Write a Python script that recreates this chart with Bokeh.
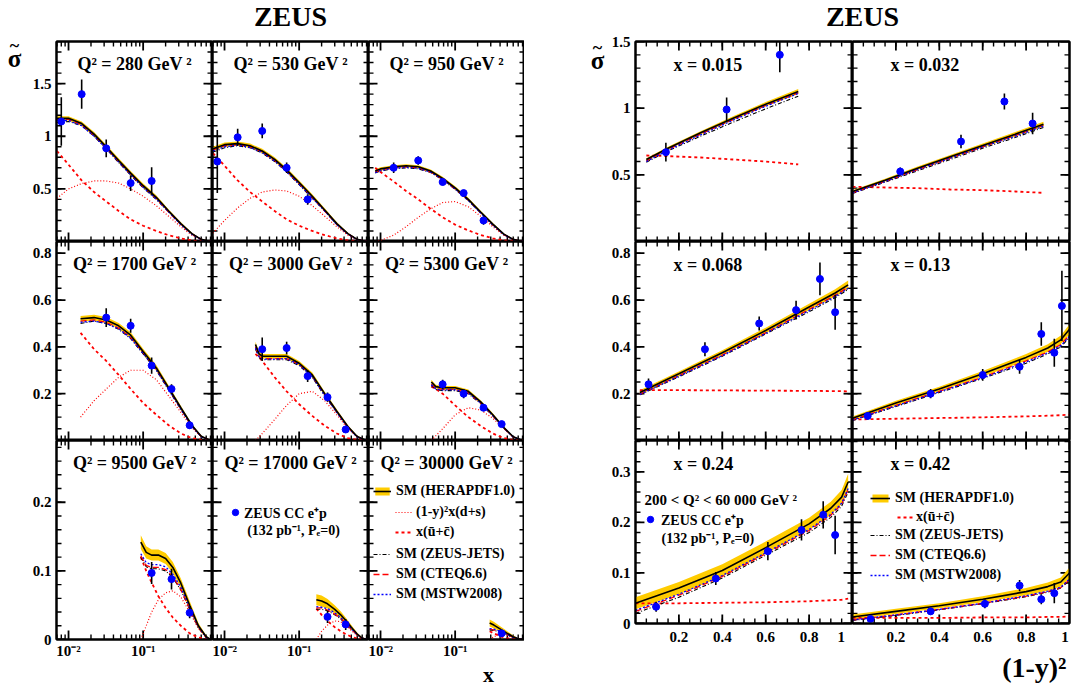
import numpy as np
from bokeh.plotting import figure
from bokeh.layouts import row, column
from bokeh.models import (FixedTicker, LinearAxis, LogAxis, Label, Legend,
                          LegendItem, Range1d, CustomJSTickFormatter)
from bokeh.embed import file_html
from bokeh.resources import INLINE

# ====================== LEFT BLOCK : sigma~ vs x at fixed Q^2 ======================
X_A = [0.007, 0.01, 0.015, 0.022, 0.032, 0.047, 0.068, 0.1, 0.15, 0.22, 0.32, 0.45, 0.6, 0.8]

Q280_X = X_A
Q280_SM = [1.17, 1.17, 1.12, 1.02, 0.90, 0.77, 0.65, 0.53, 0.42, 0.29, 0.17, 0.075, 0.02, 0.0]
Q280_BAND = [0.02, 0.02, 0.02, 0.02, 0.02, 0.02, 0.02, 0.02, 0.02, 0.015, 0.012, 0.008, 0.004, 0.0]
Q280_JETS = [1.13, 1.14, 1.10, 1.00, 0.88, 0.75, 0.63, 0.51, 0.40, 0.28, 0.16, 0.07, 0.018, 0.0]
Q280_CTEQ = [1.16, 1.16, 1.11, 1.01, 0.89, 0.76, 0.64, 0.52, 0.41, 0.28, 0.165, 0.072, 0.02, 0.0]
Q280_MSTW = [1.15, 1.15, 1.10, 1.00, 0.885, 0.755, 0.635, 0.515, 0.405, 0.28, 0.16, 0.07, 0.018, 0.0]
Q280_DS = [0.41, 0.50, 0.55, 0.575, 0.575, 0.555, 0.50, 0.43, 0.34, 0.24, 0.14, 0.06, 0.017, 0.0]
Q280_UC = [0.86, 0.73, 0.58, 0.47, 0.38, 0.29, 0.21, 0.15, 0.10, 0.06, 0.03, 0.01, 0.003, 0.0]
Q280_PX = [0.008, 0.015, 0.032, 0.068, 0.13]
Q280_PY = [1.14, 1.40, 0.885, 0.555, 0.575]
Q280_PE = [0.23, 0.14, 0.085, 0.075, 0.13]

Q530_X = X_A
Q530_SM = [0.88, 0.92, 0.93, 0.91, 0.86, 0.78, 0.68, 0.56, 0.43, 0.30, 0.17, 0.075, 0.02, 0.0]
Q530_BAND = [0.02, 0.02, 0.02, 0.02, 0.02, 0.02, 0.02, 0.02, 0.02, 0.015, 0.012, 0.008, 0.004, 0.0]
Q530_JETS = [0.85, 0.89, 0.91, 0.89, 0.84, 0.76, 0.66, 0.54, 0.41, 0.29, 0.16, 0.07, 0.018, 0.0]
Q530_CTEQ = [0.87, 0.91, 0.92, 0.90, 0.85, 0.77, 0.67, 0.55, 0.42, 0.29, 0.165, 0.072, 0.02, 0.0]
Q530_MSTW = [0.86, 0.90, 0.915, 0.895, 0.845, 0.765, 0.665, 0.545, 0.415, 0.29, 0.16, 0.07, 0.018, 0.0]
Q530_DS = [0.08, 0.20, 0.32, 0.41, 0.47, 0.49, 0.48, 0.43, 0.34, 0.24, 0.14, 0.06, 0.017, 0.0]
Q530_UC = [0.84, 0.72, 0.58, 0.47, 0.38, 0.29, 0.21, 0.15, 0.10, 0.06, 0.03, 0.01, 0.003, 0.0]
Q530_PX = [0.008, 0.015, 0.032, 0.068, 0.13]
Q530_PY = [0.76, 0.99, 1.05, 0.70, 0.40]
Q530_PE = [0.30, 0.08, 0.07, 0.05, 0.05]

Q950_X = [0.0085, 0.01, 0.015, 0.022, 0.032, 0.047, 0.068, 0.1, 0.15, 0.22, 0.32, 0.45, 0.6, 0.8]
Q950_SM = [0.67, 0.69, 0.71, 0.72, 0.71, 0.67, 0.60, 0.51, 0.40, 0.28, 0.165, 0.07, 0.02, 0.0]
Q950_BAND = [0.015, 0.015, 0.015, 0.015, 0.015, 0.015, 0.015, 0.015, 0.015, 0.012, 0.01, 0.007, 0.004, 0.0]
Q950_JETS = [0.65, 0.67, 0.69, 0.70, 0.69, 0.655, 0.585, 0.495, 0.39, 0.27, 0.155, 0.065, 0.018, 0.0]
Q950_CTEQ = [0.66, 0.68, 0.70, 0.71, 0.70, 0.66, 0.59, 0.50, 0.395, 0.275, 0.16, 0.068, 0.02, 0.0]
Q950_MSTW = [0.655, 0.675, 0.695, 0.705, 0.695, 0.66, 0.59, 0.50, 0.39, 0.27, 0.157, 0.066, 0.018, 0.0]
Q950_DS = [0.0, 0.01, 0.06, 0.14, 0.23, 0.31, 0.37, 0.38, 0.33, 0.24, 0.14, 0.06, 0.017, 0.0]
Q950_UC = [0.70, 0.66, 0.57, 0.48, 0.40, 0.31, 0.23, 0.16, 0.105, 0.062, 0.03, 0.01, 0.003, 0.0]
Q950_PX = [0.015, 0.032, 0.068, 0.13, 0.24]
Q950_PY = [0.70, 0.77, 0.565, 0.46, 0.20]
Q950_PE = [0.05, 0.04, 0.03, 0.03, 0.04]

Q1700_X = [0.0145, 0.022, 0.032, 0.047, 0.068, 0.1, 0.15, 0.22, 0.32, 0.45, 0.6, 0.8]
Q1700_SM = [0.52, 0.525, 0.515, 0.49, 0.45, 0.38, 0.31, 0.225, 0.14, 0.065, 0.018, 0.0]
Q1700_BAND = [0.012, 0.012, 0.012, 0.012, 0.012, 0.012, 0.012, 0.01, 0.008, 0.006, 0.003, 0.0]
Q1700_JETS = [0.50, 0.51, 0.50, 0.475, 0.435, 0.37, 0.30, 0.215, 0.133, 0.06, 0.016, 0.0]
Q1700_CTEQ = [0.51, 0.515, 0.505, 0.48, 0.44, 0.375, 0.305, 0.22, 0.136, 0.062, 0.017, 0.0]
Q1700_MSTW = [0.505, 0.51, 0.50, 0.478, 0.438, 0.372, 0.302, 0.218, 0.134, 0.061, 0.016, 0.0]
Q1700_DS = [0.10, 0.17, 0.22, 0.27, 0.30, 0.30, 0.26, 0.19, 0.12, 0.055, 0.016, 0.0]
Q1700_UC = [0.46, 0.39, 0.34, 0.28, 0.22, 0.16, 0.11, 0.065, 0.03, 0.01, 0.003, 0.0]
Q1700_PX = [0.032, 0.068, 0.13, 0.24, 0.42]
Q1700_PY = [0.525, 0.49, 0.32, 0.22, 0.065]
Q1700_PE = [0.04, 0.03, 0.035, 0.02, 0.015]

Q3000_X = [0.026, 0.029, 0.032, 0.047, 0.068, 0.1, 0.15, 0.22, 0.32, 0.45, 0.6, 0.8]
Q3000_SM = [0.41, 0.37, 0.36, 0.36, 0.36, 0.33, 0.28, 0.20, 0.125, 0.06, 0.017, 0.0]
Q3000_BAND = [0.012, 0.01, 0.01, 0.01, 0.01, 0.01, 0.01, 0.008, 0.007, 0.005, 0.003, 0.0]
Q3000_JETS = [0.39, 0.355, 0.345, 0.345, 0.345, 0.32, 0.27, 0.19, 0.12, 0.055, 0.015, 0.0]
Q3000_CTEQ = [0.40, 0.36, 0.35, 0.35, 0.35, 0.325, 0.275, 0.195, 0.122, 0.057, 0.016, 0.0]
Q3000_MSTW = [0.395, 0.358, 0.348, 0.348, 0.35, 0.324, 0.273, 0.193, 0.12, 0.056, 0.015, 0.0]
Q3000_DS = [0.0, 0.015, 0.03, 0.09, 0.15, 0.20, 0.21, 0.17, 0.11, 0.05, 0.015, 0.0]
Q3000_UC = [0.37, 0.355, 0.34, 0.27, 0.21, 0.155, 0.105, 0.063, 0.03, 0.01, 0.003, 0.0]
Q3000_PX = [0.032, 0.068, 0.13, 0.24, 0.42]
Q3000_PY = [0.39, 0.395, 0.275, 0.185, 0.047]
Q3000_PE = [0.05, 0.027, 0.025, 0.02, 0.01]

Q5300_X = [0.048, 0.055, 0.068, 0.1, 0.15, 0.22, 0.32, 0.45, 0.6, 0.8]
Q5300_SM = [0.25, 0.23, 0.225, 0.225, 0.21, 0.165, 0.11, 0.055, 0.016, 0.0]
Q5300_BAND = [0.01, 0.008, 0.008, 0.008, 0.008, 0.007, 0.006, 0.004, 0.002, 0.0]
Q5300_JETS = [0.235, 0.218, 0.213, 0.213, 0.20, 0.157, 0.105, 0.052, 0.015, 0.0]
Q5300_CTEQ = [0.24, 0.222, 0.218, 0.218, 0.204, 0.16, 0.107, 0.053, 0.015, 0.0]
Q5300_MSTW = [0.238, 0.22, 0.216, 0.217, 0.203, 0.16, 0.106, 0.053, 0.015, 0.0]
Q5300_DS = [0.0, 0.02, 0.05, 0.11, 0.14, 0.13, 0.095, 0.05, 0.015, 0.0]
Q5300_UC = [0.23, 0.22, 0.20, 0.15, 0.10, 0.062, 0.03, 0.01, 0.003, 0.0]
Q5300_PX = [0.068, 0.13, 0.24, 0.42]
Q5300_PY = [0.24, 0.20, 0.14, 0.07]
Q5300_PE = [0.02, 0.02, 0.015, 0.012]

Q9500_X = [0.093, 0.11, 0.13, 0.16, 0.2, 0.25, 0.32, 0.42, 0.55, 0.7, 0.8]
Q9500_SM = [0.142, 0.127, 0.123, 0.123, 0.118, 0.105, 0.082, 0.05, 0.02, 0.004, 0.0]
Q9500_BAND = [0.01, 0.009, 0.008, 0.008, 0.008, 0.008, 0.007, 0.006, 0.004, 0.002, 0.0]
Q9500_JETS = [0.12, 0.106, 0.103, 0.103, 0.10, 0.09, 0.072, 0.044, 0.017, 0.003, 0.0]
Q9500_CTEQ = [0.122, 0.108, 0.105, 0.105, 0.102, 0.092, 0.073, 0.045, 0.018, 0.003, 0.0]
Q9500_MSTW = [0.125, 0.112, 0.109, 0.109, 0.106, 0.095, 0.076, 0.047, 0.019, 0.003, 0.0]
Q9500_DS = [0.0, 0.02, 0.04, 0.058, 0.068, 0.071, 0.062, 0.04, 0.016, 0.003, 0.0]
Q9500_UC = [0.12, 0.10, 0.083, 0.063, 0.046, 0.032, 0.02, 0.009, 0.003, 0.0005, 0.0]
Q9500_PX = [0.13, 0.24, 0.42]
Q9500_PY = [0.097, 0.088, 0.039]
Q9500_PE = [0.016, 0.015, 0.008]

Q17000_X = [0.17, 0.2, 0.24, 0.3, 0.36, 0.42, 0.5, 0.6, 0.7, 0.8]
Q17000_SM = [0.058, 0.056, 0.052, 0.044, 0.036, 0.028, 0.018, 0.008, 0.002, 0.0]
Q17000_BAND = [0.008, 0.008, 0.007, 0.006, 0.005, 0.004, 0.003, 0.002, 0.001, 0.0]
Q17000_JETS = [0.044, 0.044, 0.042, 0.036, 0.03, 0.023, 0.015, 0.007, 0.002, 0.0]
Q17000_CTEQ = [0.046, 0.046, 0.043, 0.037, 0.031, 0.024, 0.015, 0.007, 0.002, 0.0]
Q17000_MSTW = [0.048, 0.047, 0.045, 0.039, 0.032, 0.025, 0.016, 0.007, 0.002, 0.0]
Q17000_DS = [0.0, 0.012, 0.021, 0.027, 0.026, 0.021, 0.013, 0.006, 0.001, 0.0]
Q17000_UC = [0.045, 0.036, 0.027, 0.018, 0.012, 0.008, 0.004, 0.0015, 0.0003, 0.0]
Q17000_PX = [0.24, 0.42]
Q17000_PY = [0.033, 0.022]
Q17000_PE = [0.009, 0.008]

Q30000_X = [0.29, 0.33, 0.38, 0.42, 0.5, 0.6, 0.7, 0.8]
Q30000_SM = [0.024, 0.021, 0.017, 0.014, 0.009, 0.004, 0.001, 0.0]
Q30000_BAND = [0.005, 0.005, 0.004, 0.004, 0.003, 0.002, 0.001, 0.0]
Q30000_JETS = [0.014, 0.013, 0.012, 0.01, 0.007, 0.003, 0.001, 0.0]
Q30000_CTEQ = [0.015, 0.014, 0.012, 0.011, 0.007, 0.003, 0.001, 0.0]
Q30000_MSTW = [0.016, 0.015, 0.013, 0.011, 0.007, 0.003, 0.001, 0.0]
Q30000_DS = [0.0, 0.004, 0.007, 0.008, 0.007, 0.004, 0.001, 0.0]
Q30000_UC = [0.012, 0.009, 0.006, 0.004, 0.002, 0.0007, 0.0002, 0.0]
Q30000_PX = [0.42]
Q30000_PY = [0.009]
Q30000_PE = [0.005]

# ====================== RIGHT BLOCK : sigma~ vs (1-y)^2 at fixed x ======================
X015_T = [0.05, 0.15, 0.3, 0.45, 0.6, 0.75]
X015_SM = [0.615, 0.70, 0.815, 0.925, 1.03, 1.125]
X015_BAND = [0.01, 0.01, 0.012, 0.014, 0.016, 0.018]
X015_JETS = [0.595, 0.68, 0.79, 0.895, 0.995, 1.09]
X015_CTEQ = [0.605, 0.69, 0.805, 0.915, 1.02, 1.115]
X015_MSTW = [0.60, 0.685, 0.80, 0.91, 1.015, 1.11]
X015_UC = [0.645, 0.64, 0.63, 0.615, 0.60, 0.578]
X015_PT = [0.14, 0.42, 0.665]
X015_PY = [0.67, 0.99, 1.40]
X015_PE = [0.07, 0.09, 0.13]

X032_T = [0.0, 0.15, 0.3, 0.45, 0.6, 0.75, 0.88]
X032_SM = [0.375, 0.46, 0.55, 0.635, 0.72, 0.805, 0.88]
X032_BAND = [0.01, 0.01, 0.012, 0.013, 0.015, 0.016, 0.018]
X032_JETS = [0.36, 0.445, 0.53, 0.615, 0.70, 0.78, 0.855]
X032_CTEQ = [0.365, 0.45, 0.54, 0.625, 0.71, 0.795, 0.87]
X032_MSTW = [0.365, 0.45, 0.54, 0.625, 0.71, 0.79, 0.865]
X032_UC = [0.41, 0.405, 0.40, 0.39, 0.385, 0.375, 0.365]
X032_PT = [0.22, 0.50, 0.70, 0.83]
X032_PY = [0.525, 0.75, 1.05, 0.885]
X032_PE = [0.03, 0.05, 0.06, 0.08]

X068_T = [0.02, 0.2, 0.4, 0.6, 0.8, 0.92, 0.98]
X068_SM = [0.205, 0.285, 0.375, 0.47, 0.57, 0.63, 0.665]
X068_BAND = [0.01, 0.01, 0.01, 0.012, 0.014, 0.016, 0.018]
X068_JETS = [0.195, 0.272, 0.36, 0.455, 0.55, 0.61, 0.645]
X068_CTEQ = [0.198, 0.277, 0.365, 0.46, 0.56, 0.62, 0.655]
X068_MSTW = [0.197, 0.275, 0.363, 0.458, 0.555, 0.615, 0.65]
X068_UC = [0.215, 0.215, 0.214, 0.213, 0.212, 0.211, 0.21]
X068_PT = [0.06, 0.32, 0.57, 0.74, 0.85, 0.92]
X068_PY = [0.24, 0.39, 0.50, 0.557, 0.69, 0.548]
X068_PE = [0.025, 0.03, 0.03, 0.04, 0.07, 0.075]

X13_T = [0.0, 0.2, 0.4, 0.6, 0.8, 0.9, 0.96, 1.0]
X13_SM = [0.095, 0.16, 0.22, 0.285, 0.355, 0.395, 0.43, 0.475]
X13_BAND = [0.008, 0.01, 0.01, 0.012, 0.014, 0.016, 0.018, 0.022]
X13_JETS = [0.085, 0.145, 0.205, 0.265, 0.33, 0.37, 0.40, 0.44]
X13_CTEQ = [0.088, 0.15, 0.21, 0.27, 0.34, 0.378, 0.41, 0.45]
X13_MSTW = [0.087, 0.148, 0.208, 0.268, 0.335, 0.375, 0.405, 0.445]
X13_UC = [0.09, 0.093, 0.096, 0.099, 0.103, 0.106, 0.108, 0.11]
X13_PT = [0.07, 0.36, 0.60, 0.77, 0.87, 0.93, 0.965]
X13_PY = [0.105, 0.20, 0.28, 0.315, 0.455, 0.375, 0.575]
X13_PE = [0.015, 0.02, 0.025, 0.03, 0.05, 0.06, 0.15]

X24_T = [0.0, 0.2, 0.4, 0.6, 0.8, 0.9, 0.95, 0.98]
X24_SM = [0.04, 0.07, 0.105, 0.15, 0.197, 0.228, 0.25, 0.28]
X24_BAND = [0.012, 0.012, 0.012, 0.012, 0.012, 0.013, 0.014, 0.016]
X24_JETS = [0.02, 0.052, 0.09, 0.135, 0.18, 0.21, 0.232, 0.26]
X24_CTEQ = [0.024, 0.056, 0.093, 0.138, 0.184, 0.214, 0.236, 0.265]
X24_MSTW = [0.026, 0.058, 0.095, 0.14, 0.186, 0.216, 0.238, 0.267]
X24_UC = [0.04, 0.04, 0.041, 0.042, 0.044, 0.046, 0.047, 0.049]
X24_PT = [0.095, 0.37, 0.61, 0.765, 0.865, 0.92]
X24_PY = [0.033, 0.089, 0.143, 0.185, 0.215, 0.175]
X24_PE = [0.01, 0.013, 0.018, 0.021, 0.027, 0.038]

X42_T = [0.0, 0.2, 0.4, 0.6, 0.8, 0.9, 0.96, 1.0]
X42_SM = [0.013, 0.024, 0.035, 0.048, 0.063, 0.073, 0.082, 0.10]
X42_BAND = [0.005, 0.005, 0.005, 0.006, 0.007, 0.008, 0.009, 0.011]
X42_JETS = [0.006, 0.016, 0.027, 0.039, 0.053, 0.062, 0.07, 0.085]
X42_CTEQ = [0.007, 0.017, 0.028, 0.04, 0.054, 0.063, 0.071, 0.087]
X42_MSTW = [0.007, 0.017, 0.028, 0.04, 0.055, 0.064, 0.072, 0.088]
X42_UC = [0.011, 0.011, 0.011, 0.012, 0.012, 0.013, 0.013, 0.014]
X42_PT = [0.083, 0.36, 0.61, 0.77, 0.87, 0.93]
X42_PY = [0.009, 0.024, 0.039, 0.075, 0.048, 0.06]
X42_PE = [0.004, 0.006, 0.009, 0.011, 0.01, 0.02]

LEFT_LABELS = ["280", "530", "950", "1700", "3000", "5300", "9500", "17000", "30000"]
RIGHT_LABELS = ["0.015", "0.032", "0.068", "0.13", "0.24", "0.42"]

LEFT = [
    (Q280_X, Q280_SM, Q280_BAND, Q280_JETS, Q280_CTEQ, Q280_MSTW, Q280_DS, Q280_UC, Q280_PX, Q280_PY, Q280_PE),
    (Q530_X, Q530_SM, Q530_BAND, Q530_JETS, Q530_CTEQ, Q530_MSTW, Q530_DS, Q530_UC, Q530_PX, Q530_PY, Q530_PE),
    (Q950_X, Q950_SM, Q950_BAND, Q950_JETS, Q950_CTEQ, Q950_MSTW, Q950_DS, Q950_UC, Q950_PX, Q950_PY, Q950_PE),
    (Q1700_X, Q1700_SM, Q1700_BAND, Q1700_JETS, Q1700_CTEQ, Q1700_MSTW, Q1700_DS, Q1700_UC, Q1700_PX, Q1700_PY, Q1700_PE),
    (Q3000_X, Q3000_SM, Q3000_BAND, Q3000_JETS, Q3000_CTEQ, Q3000_MSTW, Q3000_DS, Q3000_UC, Q3000_PX, Q3000_PY, Q3000_PE),
    (Q5300_X, Q5300_SM, Q5300_BAND, Q5300_JETS, Q5300_CTEQ, Q5300_MSTW, Q5300_DS, Q5300_UC, Q5300_PX, Q5300_PY, Q5300_PE),
    (Q9500_X, Q9500_SM, Q9500_BAND, Q9500_JETS, Q9500_CTEQ, Q9500_MSTW, Q9500_DS, Q9500_UC, Q9500_PX, Q9500_PY, Q9500_PE),
    (Q17000_X, Q17000_SM, Q17000_BAND, Q17000_JETS, Q17000_CTEQ, Q17000_MSTW, Q17000_DS, Q17000_UC, Q17000_PX, Q17000_PY, Q17000_PE),
    (Q30000_X, Q30000_SM, Q30000_BAND, Q30000_JETS, Q30000_CTEQ, Q30000_MSTW, Q30000_DS, Q30000_UC, Q30000_PX, Q30000_PY, Q30000_PE),
]
RIGHT = [
    (X015_T, X015_SM, X015_BAND, X015_JETS, X015_CTEQ, X015_MSTW, None, X015_UC, X015_PT, X015_PY, X015_PE),
    (X032_T, X032_SM, X032_BAND, X032_JETS, X032_CTEQ, X032_MSTW, None, X032_UC, X032_PT, X032_PY, X032_PE),
    (X068_T, X068_SM, X068_BAND, X068_JETS, X068_CTEQ, X068_MSTW, None, X068_UC, X068_PT, X068_PY, X068_PE),
    (X13_T, X13_SM, X13_BAND, X13_JETS, X13_CTEQ, X13_MSTW, None, X13_UC, X13_PT, X13_PY, X13_PE),
    (X24_T, X24_SM, X24_BAND, X24_JETS, X24_CTEQ, X24_MSTW, None, X24_UC, X24_PT, X24_PY, X24_PE),
    (X42_T, X42_SM, X42_BAND, X42_JETS, X42_CTEQ, X42_MSTW, None, X42_UC, X42_PT, X42_PY, X42_PE),
]

# ====================== styling / geometry ======================
SERIF = "Liberation Serif"
YELLOW = "#FFCC00"
RED = "#FF0000"
BLUE = "#0000FF"

L_XR = (0.0069, 0.85)
L_YR = [(0, 1.9), (0, 0.85), (0, 0.29)]
R_XR = (0.0, 1.0)
R_YR = [(0, 1.5), (0, 0.85), (0, 0.362)]

# left block: header 33 | side 26 + grid | footer 26
L_W = [186, 156, 156]; L_BL = [30, 0, 0]; L_BR = [0, 0, 0]
L_H = [208, 199, 221]; L_BT = [8, 0, 0]; L_BB = [0, 0, 22]
L_FW = [156, 156, 156]; L_FH = [200, 199, 199]
# right block: header 33 | side 84 + grid | footer 40
R_W = [244, 220]; R_BL = [26, 0]; R_BR = [0, 3]
R_H = [208, 199, 207]; R_BT = [8, 0, 0]; R_BB = [0, 0, 24]
R_FW = [218, 217]; R_FH = [200, 199, 183]

LX_T = [0.01, 0.1]
LX_M = [0.007, 0.008, 0.009] + [k / 100 for k in range(2, 10)] + [k / 10 for k in range(2, 9)]
LY_T = [[0.5, 1.0, 1.5], [0.2, 0.4, 0.6, 0.8], [0.0, 0.1, 0.2]]
LY_M = [[round(0.1 * k, 3) for k in range(1, 20)],
        [round(0.05 * k, 3) for k in range(1, 18)],
        [round(0.02 * k, 3) for k in range(1, 15)]]
RX_T = [0.2, 0.4, 0.6, 0.8, 1.0]
RX_M = [round(0.05 * k, 3) for k in range(1, 20)]
RY_T = [[0.5, 1.0, 1.5], [0.2, 0.4, 0.6, 0.8], [0.0, 0.1, 0.2, 0.3]]
RY_M = [[round(0.1 * k, 3) for k in range(1, 15)],
        [round(0.05 * k, 3) for k in range(1, 18)],
        [round(0.02 * k, 3) for k in range(1, 19)]]

NUM_CODE = "return String(Math.round(tick*100)/100);"
LOG_CODE = "return tick < 0.05 ? '10\u207b\u00b2' : '10\u207b\u00b9';"
RX1_CODE = "if (Math.abs(tick-1) < 1e-6) return '1\u00a0\u00a0'; return String(Math.round(tick*100)/100);"
RX2_CODE = "if (Math.abs(tick-1) < 1e-6) return '1\u00a0'; return String(Math.round(tick*100)/100);"

MAJ_LEN = 9
MIN_LEN = 5


def style_axis(ax, show, code, standoff):
    ax.axis_line_width = 2
    ax.axis_line_color = "black"
    ax.major_tick_in = 0
    ax.major_tick_out = 0
    ax.minor_tick_in = 0
    ax.minor_tick_out = 0
    if show:
        ax.formatter = CustomJSTickFormatter(code=code)
        ax.major_label_text_font = SERIF
        ax.major_label_text_font_style = "bold"
        ax.major_label_text_font_size = "15px"
        ax.major_label_text_color = "black"
        ax.major_label_standoff = standoff
    else:
        ax.formatter = CustomJSTickFormatter(code="return '';")
        ax.major_label_text_font_size = "0px"
        ax.major_label_standoff = 0


def inward_ticks(p, xlog, xr, yr, fw, fh, xt, xm, yt, ym):
    """Inward ROOT-style ticks on all four frame sides (decoration only)."""
    for ticks, L, lw in ((xt, MAJ_LEN, 1.8), (xm, MIN_LEN, 1.4)):
        t = np.array(ticks, dtype=float)
        n = len(t)
        dy = L * (yr[1] - yr[0]) / fh
        x0 = np.concatenate([t, t])
        y0 = np.concatenate([np.full(n, float(yr[0])), np.full(n, float(yr[1]))])
        y1 = np.concatenate([np.full(n, yr[0] + dy), np.full(n, yr[1] - dy)])
        p.segment(x0=x0, y0=y0, x1=x0, y1=y1, line_color="black", line_width=lw)
    for ticks, L, lw in ((yt, MAJ_LEN, 1.8), (ym, MIN_LEN, 1.4)):
        t = np.array(ticks, dtype=float)
        n = len(t)
        if xlog:
            f = 10 ** (L * np.log10(xr[1] / xr[0]) / fw)
            a0, a1, b0, b1 = xr[0], xr[0] * f, xr[1], xr[1] / f
        else:
            d = L * (xr[1] - xr[0]) / fw
            a0, a1, b0, b1 = xr[0], xr[0] + d, xr[1], xr[1] - d
        x0 = np.concatenate([np.full(n, float(a0)), np.full(n, float(b0))])
        x1 = np.concatenate([np.full(n, float(a1)), np.full(n, float(b1))])
        y0 = np.concatenate([t, t])
        p.segment(x0=x0, y0=y0, x1=x1, y1=y0, line_color="black", line_width=lw)


def make_panel(w, h, bl, br, bt, bb, fw, fh, xr, yr, xlog, xt, xm, yt, ym, showx, showy, xcode, xstand):
    p = figure(width=w, height=h, x_range=Range1d(*xr), y_range=Range1d(*yr),
               x_axis_type="log" if xlog else "linear",
               x_axis_location=None, y_axis_location=None,
               toolbar_location=None, output_backend="svg",
               min_border_left=bl, min_border_right=br, min_border_top=bt, min_border_bottom=bb)
    for g in p.grid:
        g.visible = False
    p.outline_line_color = "black"
    p.outline_line_width = 2
    p.background_fill_color = "white"
    p.border_fill_color = "white"
    AxX = LogAxis if xlog else LinearAxis
    for place in ["below", "above"]:
        ax = AxX(ticker=FixedTicker(ticks=xt, minor_ticks=xm))
        style_axis(ax, showx and place == "below", xcode, xstand)
        p.add_layout(ax, place)
    for place in ["left", "right"]:
        ax = LinearAxis(ticker=FixedTicker(ticks=yt, minor_ticks=ym))
        style_axis(ax, showy and place == "left", NUM_CODE, 5)
        p.add_layout(ax, place)
    inward_ticks(p, xlog, xr, yr, fw, fh, xt, xm, yt, ym)
    return p


def draw(p, spec):
    xs, sm, band, jets, cteq, mstw, ds, uc, px, py, pe = spec
    xs = np.array(xs); sm = np.array(sm); band = np.array(band)
    r = {}
    r["band"] = p.varea(x=xs, y1=sm - band, y2=sm + band, fill_color=YELLOW)
    if ds is not None:
        r["ds"] = p.line(xs, ds, line_color=RED, line_dash="1 2", line_width=1.2)
    r["uc"] = p.line(xs, uc, line_color=RED, line_dash="3 3", line_width=1.8)
    r["jets"] = p.line(xs, jets, line_color="black", line_dash="4 2 1 2", line_width=1.1)
    r["cteq"] = p.line(xs, cteq, line_color=RED, line_dash="6 3", line_width=1.3)
    r["mstw"] = p.line(xs, mstw, line_color=BLUE, line_dash="2 2", line_width=1.3)
    r["sm"] = p.line(xs, sm, line_color="black", line_width=1.6)
    px = np.array(px); py = np.array(py); pe = np.array(pe)
    p.segment(x0=px, y0=py - pe, x1=px, y1=py + pe, line_color="black", line_width=1.6)
    r["pts"] = p.scatter(px, py, size=7, fill_color=BLUE, line_color=BLUE)
    return r


def label(p, x, y, text, size, align="left", baseline="middle"):
    p.add_layout(Label(x=x, y=y, x_units="screen", y_units="screen", text=text,
                       text_font=SERIF, text_font_size=size, text_font_style="bold",
                       text_align=align, text_baseline=baseline, text_color="black"))


def legend(p, items, x, y, gw, gh, standoff, rowh=20):
    lg = Legend(items=items, location=(x, y), orientation="vertical",
                glyph_width=gw, glyph_height=gh, label_height=rowh, label_standoff=standoff,
                spacing=0, padding=0, margin=0, border_line_color=None,
                background_fill_alpha=0,
                label_text_font=SERIF, label_text_font_style="bold",
                label_text_font_size="14px", label_text_color="black")
    p.add_layout(lg)


def blank(w, h):
    p = figure(width=w, height=h, x_range=Range1d(0, 1), y_range=Range1d(0, 1),
               x_axis_location=None, y_axis_location=None, toolbar_location=None,
               output_backend="svg", min_border=0)
    for g in p.grid:
        g.visible = False
    p.outline_line_color = None
    return p


def sigma_tilde(p, x, y_base):
    label(p, x, y_base, "\u03c3", "25px", align="center", baseline="alphabetic")
    label(p, x, y_base + 13, "~", "18px", align="center", baseline="middle")


# ---------------- left block ----------------
left_rows = []
left_figs = []
for i in range(3):
    figs = []
    for j in range(3):
        k = 3 * i + j
        p = make_panel(L_W[j], L_H[i], L_BL[j], L_BR[j], L_BT[i], L_BB[i], L_FW[j], L_FH[i],
                       L_XR, L_YR[i], True, LX_T, LX_M, LY_T[i], LY_M[i],
                       showx=(i == 2), showy=(j == 0), xcode=LOG_CODE, xstand=3)
        r = draw(p, LEFT[k])
        label(p, 78, L_FH[i] - 22, "Q\u00b2 = " + LEFT_LABELS[k] + " GeV\u2009\u00b2", "18px", align="center")
        figs.append((p, r))
    left_figs.append(figs)
    left_rows.append(row(*[f[0] for f in figs]))

p33, r33 = left_figs[2][2]
legend(p33, [LegendItem(label="SM (HERAPDF1.0)", renderers=[r33["band"], r33["sm"]])], 5, 138, 18, 10, 5)
legend(p33, [LegendItem(label="(1-y)\u00b2x(d+s)", renderers=[r33["ds"]]),
             LegendItem(label="x(\u016b+c\u0304)", renderers=[r33["uc"]])], 27, 97, 17, 10, 4)
legend(p33, [LegendItem(label="SM (ZEUS-JETS)", renderers=[r33["jets"]]),
             LegendItem(label="SM (CTEQ6.6)", renderers=[r33["cteq"]]),
             LegendItem(label="SM (MSTW2008)", renderers=[r33["mstw"]])], 5, 35, 18, 10, 5)
p32, r32 = left_figs[2][1]
legend(p32, [LegendItem(label="ZEUS CC e\u207ap", renderers=[r32["pts"]])], 15, 117, 16, 16, 1)
label(p32, 81, 109, "(132 pb\u207b\u00b9, P\u2091=0)", "14px", align="center")

headL = blank(524, 33)
label(headL, 290, 17, "ZEUS", "28px", align="center")
sideL = blank(26, 628)
sigma_tilde(sideL, 14, 603)
footL = blank(524, 26)
label(footL, 488, 13, "x", "22px", align="center", baseline="middle")

left_block = column(headL, row(sideL, column(*left_rows)), footL)

# ---------------- right block ----------------
right_rows = []
right_figs = []
for i in range(3):
    figs = []
    for j in range(2):
        k = 2 * i + j
        p = make_panel(R_W[j], R_H[i], R_BL[j], R_BR[j], R_BT[i], R_BB[i], R_FW[j], R_FH[i],
                       R_XR, R_YR[i], False, RX_T, RX_M, RY_T[i], RY_M[i],
                       showx=(i == 2), showy=(j == 0), xcode=(RX1_CODE if j == 0 else RX2_CODE),
                       xstand=5)
        r = draw(p, RIGHT[k])
        label(p, 38, R_FH[i] - 23, "x = " + RIGHT_LABELS[k], "18px", align="left")
        figs.append((p, r))
    right_figs.append(figs)
    right_rows.append(row(*[f[0] for f in figs]))

q32, s32 = right_figs[2][1]
legend(q32, [LegendItem(label="SM (HERAPDF1.0)", renderers=[s32["band"], s32["sm"]])], 18, 115, 20, 10, 5)
legend(q32, [LegendItem(label="x(\u016b+c\u0304)", renderers=[s32["uc"]])], 45, 96, 16, 10, 3)
legend(q32, [LegendItem(label="SM (ZEUS-JETS)", renderers=[s32["jets"]]),
             LegendItem(label="SM (CTEQ6.6)", renderers=[s32["cteq"]]),
             LegendItem(label="SM (MSTW2008)", renderers=[s32["mstw"]])], 18, 38, 20, 10, 5)
q31, s31 = right_figs[2][0]
label(q31, 9, 124, "200 < Q\u00b2 < 60 000 GeV\u2009\u00b2", "15px", align="left")
legend(q31, [LegendItem(label="ZEUS CC e\u207ap", renderers=[s31["pts"]])], 7, 94, 16, 16, 3)
label(q31, 26, 85, "(132 pb\u207b\u00b9, P\u2091=0)", "14px", align="left")

headR = blank(548, 33)
label(headR, 338, 17, "ZEUS", "28px", align="center")
sideR = blank(84, 614)
sigma_tilde(sideR, 73, 587)
footR = blank(548, 40)
label(footR, 542, 20, "(1-y)\u00b2", "28px", align="right", baseline="middle")

right_block = column(headR, row(sideR, column(*right_rows)), footR)

layout = row(left_block, right_block)
open("out.html", "w").write(file_html(layout, INLINE))
